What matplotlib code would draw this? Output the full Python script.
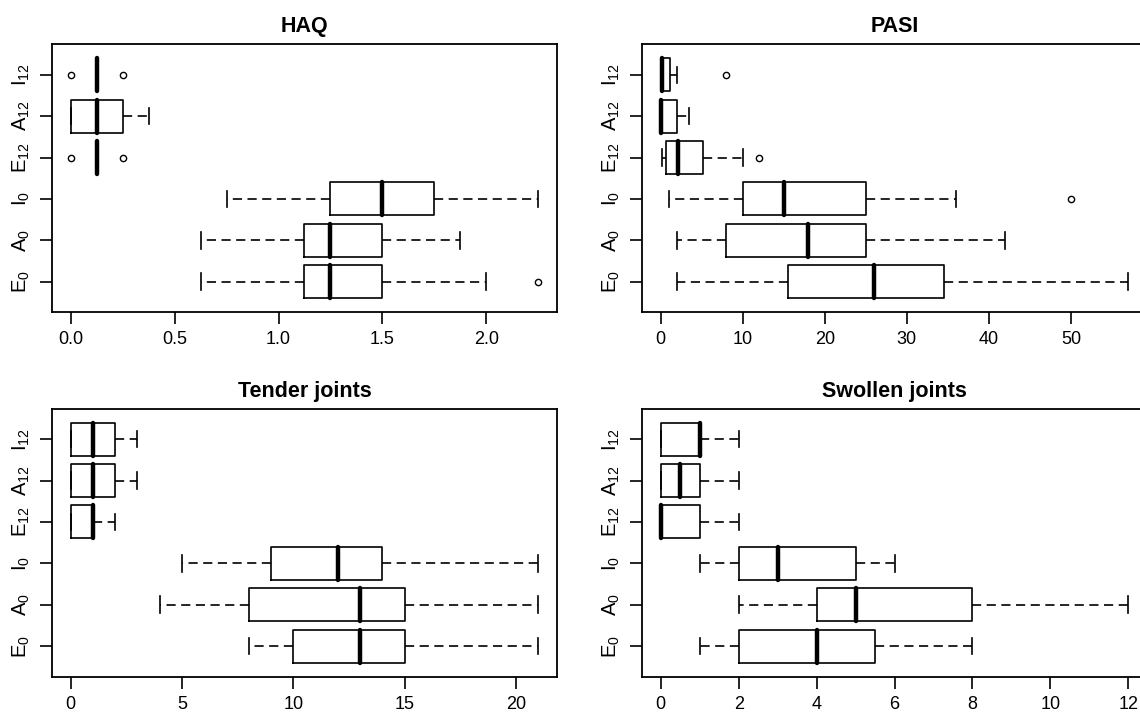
import matplotlib
matplotlib.use("Agg")
import matplotlib.pyplot as plt
from matplotlib.ticker import MultipleLocator, FormatStrFormatter

plt.rcParams['font.family'] = ['Liberation Sans', 'DejaVu Sans']
plt.rcParams['mathtext.fontset'] = 'custom'
plt.rcParams['mathtext.rm'] = 'Liberation Sans'
plt.rcParams['mathtext.it'] = 'Liberation Sans:italic'

groups = [r'$\mathrm{E}_{0}$', r'$\mathrm{A}_{0}$', r'$\mathrm{I}_{0}$',
          r'$\mathrm{E}_{12}$', r'$\mathrm{A}_{12}$', r'$\mathrm{I}_{12}$']

# box summaries, order E0, A0, I0, E12, A12, I12
haq_lo = [0.625, 0.625, 0.75, 0.125, 0.0, 0.125]
haq_q1 = [1.125, 1.125, 1.25, 0.125, 0.0, 0.125]
haq_med = [1.25, 1.25, 1.5, 0.125, 0.125, 0.125]
haq_q3 = [1.5, 1.5, 1.75, 0.125, 0.25, 0.125]
haq_hi = [2.0, 1.875, 2.25, 0.125, 0.375, 0.125]
haq_out = [[2.25], [], [], [0.0, 0.25], [], [0.0, 0.25]]

pasi_lo = [2, 2, 1, 0.2, 0, 0]
pasi_q1 = [15.5, 8, 10, 0.6, 0, 0]
pasi_med = [26, 18, 15, 2.1, 0, 0.1]
pasi_q3 = [34.5, 25, 25, 5.1, 2, 1.1]
pasi_hi = [57, 42, 36, 10, 3.5, 2]
pasi_out = [[], [], [50], [12], [], [8]]

tender_lo = [8, 4, 5, 0, 0, 0]
tender_q1 = [10, 8, 9, 0, 0, 0]
tender_med = [13, 13, 12, 1, 1, 1]
tender_q3 = [15, 15, 14, 1, 2, 2]
tender_hi = [21, 21, 21, 2, 3, 3]
tender_out = [[], [], [], [], [], []]

swollen_lo = [1, 2, 1, 0, 0, 0]
swollen_q1 = [2, 4, 2, 0, 0, 0]
swollen_med = [4, 5, 3, 0, 0.5, 1]
swollen_q3 = [5.5, 8, 5, 1, 1, 1]
swollen_hi = [8, 12, 6, 2, 2, 2]
swollen_out = [[], [], [], [], [], []]


def panel(ax, title, lo, q1, med, q3, hi, out, step, fmt=None):
    stats = [dict(whislo=a, q1=b, med=c, q3=d, whishi=e, fliers=f)
             for a, b, c, d, e, f in zip(lo, q1, med, q3, hi, out)]
    ax.bxp(stats, positions=range(1, 7), widths=0.8, orientation='horizontal',
           boxprops=dict(color='black', linewidth=1.2),
           whiskerprops=dict(color='black', linewidth=1.2, linestyle=(0, (5.5, 3.3))),
           capprops=dict(color='black', linewidth=1.2),
           medianprops=dict(color='black', linewidth=3.2, solid_capstyle='round'),
           flierprops=dict(marker='o', markerfacecolor='none', markeredgecolor='black',
                           markersize=4.5, markeredgewidth=1.0))
    # R style: 4% padding round the data range
    vals = lo + hi + [v for f in out for v in f]
    a, b = min(vals), max(vals)
    ax.set_xlim(a - 0.04 * (b - a), b + 0.04 * (b - a))
    ax.set_ylim(0.26, 6.74)
    ax.xaxis.set_major_locator(MultipleLocator(step))
    if fmt:
        ax.xaxis.set_major_formatter(FormatStrFormatter(fmt))
    ax.set_yticks(range(1, 7), groups, rotation=90, va='center')
    ax.tick_params(direction='out', length=8.6, width=1.2, color='black')
    ax.tick_params(axis='x', pad=5, labelsize=13)
    ax.tick_params(axis='y', pad=6, labelsize=14.5)
    for s in ax.spines.values():
        s.set_linewidth(1.3)
    ax.set_title(title, fontsize=15.5, fontweight='bold', pad=8.5)


fig = plt.figure(figsize=(11.4, 7.18), dpi=100)
w, h = 0.443, 0.3735
ax1 = fig.add_axes([0.0456, 0.565, w, h])
ax2 = fig.add_axes([0.5632, 0.565, w, h])
ax3 = fig.add_axes([0.0456, 0.0575, w, h])
ax4 = fig.add_axes([0.5632, 0.0575, w, h])

panel(ax1, 'HAQ', haq_lo, haq_q1, haq_med, haq_q3, haq_hi, haq_out, 0.5, '%.1f')
panel(ax2, 'PASI', pasi_lo, pasi_q1, pasi_med, pasi_q3, pasi_hi, pasi_out, 10)
panel(ax3, 'Tender joints', tender_lo, tender_q1, tender_med, tender_q3, tender_hi, tender_out, 5)
panel(ax4, 'Swollen joints', swollen_lo, swollen_q1, swollen_med, swollen_q3, swollen_hi, swollen_out, 2)

fig.savefig('out.png', dpi=100)
